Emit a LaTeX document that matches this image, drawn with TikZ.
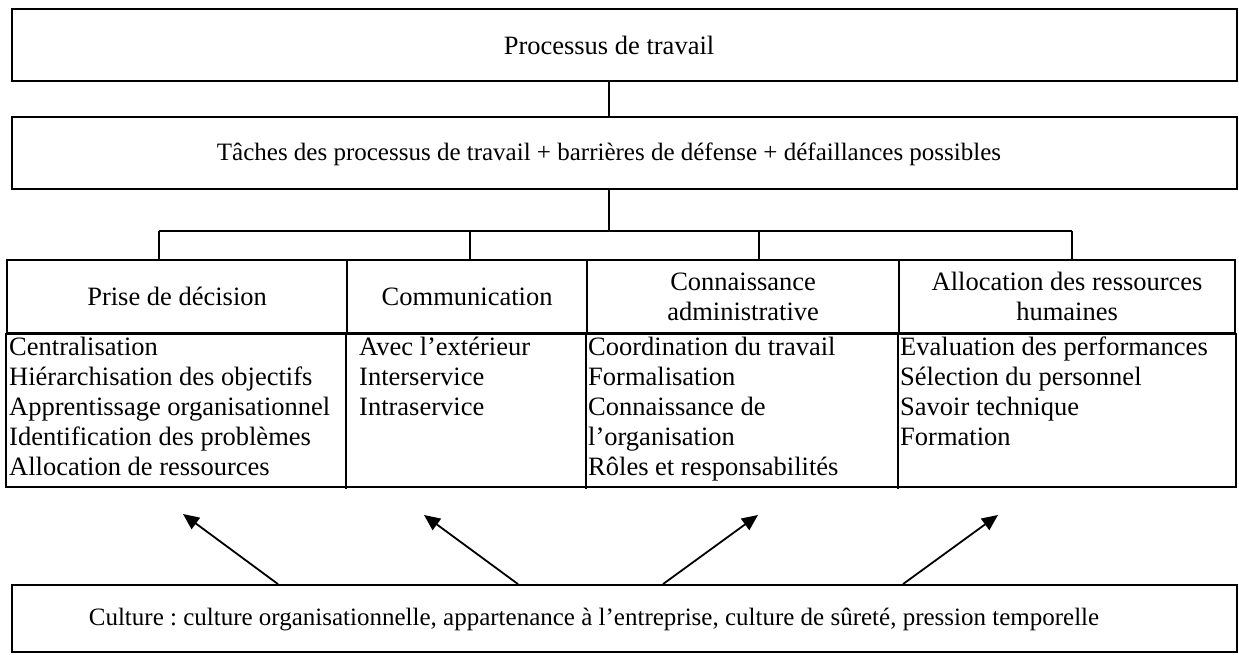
\documentclass[tikz,border=0pt]{standalone}
\usepackage{fontspec}
\setmainfont{Liberation Serif}
\usetikzlibrary{arrows.meta}
\frenchspacing

\begin{document}
\begin{tikzpicture}[
        x=1pt, y=-1pt,
        font=\fontsize{26.5}{30}\selectfont,
        >={Triangle[length=16pt, width=14pt]},
        box/.style={draw, line width=1.8pt, minimum width=1225pt, minimum height=72pt, inner sep=0pt},
        boxtext/.style={font=\fontsize{25}{30}\selectfont},
        cell/.style={draw, line width=2.2pt, minimum height=73pt, inner sep=0pt, align=center, anchor=north west},
        items/.style={anchor=north west, align=left, inner sep=0pt},
        link/.style={line width=1.8pt},
        tab/.style={line width=2.2pt}
    ]
        \useasboundingbox (0,0) rectangle (1239,655);

        \node[box] (proc) at (624.5,45) {};
        \node (proctxt) at (609,45) {Processus de travail};
        \node[box] (taches) at (624.5,153) {};
        \node[boxtext] (tachestxt) at (609,154) {Tâches des processus de travail + barrières de défense + défaillances possibles};

        \node[cell, minimum width=340pt] (h1) at (6,259) {Prise de décision};
        \node[cell, minimum width=240pt] (h2) at (346,259) {Communication};
        \node[cell, minimum width=312pt] (h3) at (586,259) {Connaissance\\administrative};
        \node[cell, minimum width=336pt] (h4) at (898,259) {Allocation des ressources\\humaines};
        \draw[tab] (h1.south west) rectangle (h4.south east |- 0,487);
        \foreach \c in {h2,h3,h4}
            \draw[tab] (\c.south west) -- ++(0,155);

        \node[items] (b1) at (9,337) {Centralisation\\Hiérarchisation des objectifs\\Apprentissage organisationnel\\Identification des problèmes\\Allocation de ressources};
        \node[items] (b2) at (359,337) {Avec l’extérieur\\Interservice\\Intraservice};
        \node[items] (b3) at (588,337) {Coordination du travail\\Formalisation\\Connaissance de\\l’organisation\\Rôles et responsabilités};
        \node[items] (b4) at (900,337) {Evaluation des performances\\Sélection du personnel\\Savoir technique\\Formation};

        \node[box, minimum height=67pt] (cult) at (624.5,618.5) {};
        \node[boxtext] (culttxt) at (594,619) {Culture : culture organisationnelle, appartenance à l’entreprise, culture de sûreté, pression temporelle};

        \coordinate (j0) at (609,231);
        \coordinate (j1) at (159,231);
        \coordinate (j2) at (470,231);
        \coordinate (j3) at (759,231);
        \coordinate (j4) at (1072,231);
        \draw[link] (proc.south -| j0) -- (taches.north -| j0);
        \draw[link] (taches.south -| j0) -- (j0);
        \draw[link] (j1) -- (j4);
        \foreach \j/\h in {j1/h1,j2/h2,j3/h3,j4/h4}
            \draw[link] (\j) -- (\j |- \h.north);

        \coordinate (t1) at (183,514);
        \coordinate (t2) at (424,515);
        \coordinate (t3) at (758,515);
        \coordinate (t4) at (998,515);
        \draw[link, ->] (cult.north -| 278,0) -- (t1);
        \draw[link, ->] (cult.north -| 518,0) -- (t2);
        \draw[link, ->] (cult.north -| 663,0) -- (t3);
        \draw[link, ->] (cult.north -| 903,0) -- (t4);
    \end{tikzpicture}
\end{document}
